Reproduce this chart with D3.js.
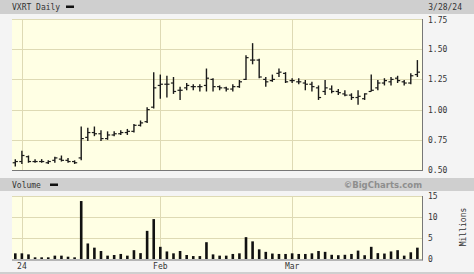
<!DOCTYPE html>
<html>
<head>
<meta charset="utf-8">
<script src="https://cdn.jsdelivr.net/npm/d3@7"></script>
<style>
  body { margin: 0; background: #f4f4f4; }
  svg { display: block; }
  text { font-family: "DejaVu Sans Mono", monospace; font-size: 8px; fill: #333; }
</style>
</head>
<body>
<svg id="chart"></svg>
<script>
var width = 474,
    height = 274;

// daily bars, 12/29/23 .. 3/28/24 (index = trading day)
var opens  = [0.56,0.57,0.61,0.57,0.57,0.56,0.58,0.59,0.58,0.57,
              0.60,0.77,0.81,0.80,0.76,0.79,0.80,0.81,0.82,0.87,
              0.90,1.02,1.20,1.21,1.22,1.16,1.18,1.19,1.19,1.20,
              1.25,1.19,1.18,1.17,1.19,1.25,1.41,1.41,1.25,1.24,
              1.30,1.30,1.24,1.23,1.22,1.21,1.18,1.15,1.17,1.15,
              1.13,1.12,1.10,1.09,1.15,1.18,1.22,1.23,1.26,1.23,
              1.22,1.29];
var highs  = [0.59,0.66,0.62,0.59,0.59,0.58,0.61,0.62,0.60,0.58,
              0.86,0.85,0.86,0.83,0.82,0.82,0.83,0.84,0.88,0.91,
              1.02,1.31,1.29,1.28,1.27,1.19,1.22,1.21,1.21,1.34,
              1.26,1.20,1.19,1.21,1.245,1.45,1.55,1.42,1.27,1.29,
              1.34,1.31,1.26,1.26,1.245,1.23,1.20,1.245,1.20,1.17,
              1.16,1.135,1.16,1.135,1.29,1.245,1.26,1.27,1.28,1.245,
              1.30,1.41];
var lows   = [0.53,0.55,0.56,0.56,0.56,0.55,0.56,0.57,0.56,0.55,
              0.58,0.74,0.78,0.74,0.75,0.78,0.79,0.79,0.81,0.86,
              0.89,1.01,1.09,1.10,1.13,1.08,1.16,1.16,1.15,1.15,
              1.15,1.16,1.15,1.15,1.18,1.245,1.375,1.26,1.19,1.23,
              1.27,1.22,1.22,1.21,1.16,1.15,1.08,1.12,1.135,1.12,
              1.11,1.08,1.04,1.08,1.15,1.16,1.20,1.20,1.22,1.20,
              1.21,1.27];
var closes = [0.57,0.62,0.57,0.57,0.57,0.57,0.60,0.58,0.57,0.56,
              0.76,0.81,0.80,0.76,0.79,0.80,0.81,0.82,0.87,0.89,
              1.00,1.18,1.21,1.21,1.15,1.16,1.20,1.19,1.19,1.26,
              1.19,1.18,1.17,1.19,1.23,1.43,1.41,1.27,1.23,1.25,
              1.31,1.23,1.24,1.23,1.21,1.19,1.10,1.18,1.15,1.14,
              1.12,1.10,1.11,1.13,1.16,1.22,1.24,1.25,1.24,1.22,
              1.28,1.31];
// volume, millions
var volumes = [1.35,1.35,1.1,0.4,0.4,0.4,0.8,0.8,0.55,0.4,
               13.8,3.7,2.7,1.9,0.8,0.95,1.2,0.8,2.1,1.4,
               6.7,9.5,2.9,1.8,1.35,1.9,0.95,0.7,0.7,4.0,
               1.1,0.8,0.8,1.2,1.35,5.2,4.2,2.3,1.7,1.3,
               1.2,1.2,1.35,1.2,1.2,1.35,1.9,1.7,1.0,0.9,
               1.0,1.2,2.0,0.9,2.9,1.4,1.3,1.8,2.1,0.8,
               1.6,2.7];

var dateTickIdx = [1, 22, 42],
    dateTickLabels = ["24", "Feb", "Mar"];
var priceTicks = [0.50, 0.75, 1.00, 1.25, 1.50, 1.75],
    volTicks = [0, 5, 10, 15];

var svg = d3.select("#chart")
    .attr("width", width)
    .attr("height", height);

var left = 12, right = 422;
var gridColor = "#dedab4", plotBg = "#ffffe4", bandColor = "#cfcfcf";

var x = d3.scaleLinear()
    .domain([-0.5, 61.7])
    .range([left, right]);

var y = d3.scaleLinear()
    .domain([0.5, 1.75])
    .range([170, 19]);

var yv = d3.scaleLinear()
    .domain([0, 15])
    .range([259, 196]);

// header bands
svg.append("rect").attr("x", 0).attr("y", 0).attr("width", width).attr("height", 14)
    .attr("fill", bandColor);
svg.append("rect").attr("x", 0).attr("y", 178).attr("width", width).attr("height", 13)
    .attr("fill", bandColor);

svg.append("text").attr("x", 12).attr("y", 10).text("VXRT Daily");
svg.append("rect").attr("x", 66).attr("y", 5.5).attr("width", 8).attr("height", 2.5).attr("fill", "#111");
svg.append("text").attr("x", 12).attr("y", 188).text("Volume");
svg.append("rect").attr("x", 50).attr("y", 183.5).attr("width", 8).attr("height", 2.5).attr("fill", "#111");
svg.append("text").attr("x", 462).attr("y", 10).attr("text-anchor", "end").text("3/28/24");
svg.append("text").attr("x", 422).attr("y", 188).attr("text-anchor", "end")
    .style("font-family", "'DejaVu Sans', sans-serif").style("font-size", "8.5px")
    .style("font-weight", "bold").style("fill", "#8e8e8e")
    .text("\u00a9BigCharts.com");

// plot backgrounds
svg.append("rect").attr("x", left).attr("y", 19).attr("width", right - left).attr("height", 151)
    .attr("fill", plotBg);
svg.append("rect").attr("x", left).attr("y", 196).attr("width", right - left).attr("height", 63)
    .attr("fill", plotBg);

// price grid
var gp = svg.append("g");
gp.selectAll("line.h").data(priceTicks.slice(1, 5)).enter().append("line")
    .attr("x1", left).attr("x2", right)
    .attr("y1", function (d) { return Math.round(y(d)) + 0.5; })
    .attr("y2", function (d) { return Math.round(y(d)) + 0.5; })
    .attr("stroke", gridColor);
gp.append("line").attr("x1", left).attr("x2", right).attr("y1", 19.5).attr("y2", 19.5).attr("stroke", gridColor);
gp.selectAll("line.v").data(dateTickIdx).enter().append("line")
    .attr("x1", function (d) { return Math.round(x(d)) + 0.5; })
    .attr("x2", function (d) { return Math.round(x(d)) + 0.5; })
    .attr("y1", 19).attr("y2", 170)
    .attr("stroke", gridColor);

// volume grid
var gv = svg.append("g");
gv.selectAll("line.h").data(volTicks.slice(1)).enter().append("line")
    .attr("x1", left).attr("x2", right)
    .attr("y1", function (d) { return Math.round(yv(d)) + 0.5; })
    .attr("y2", function (d) { return Math.round(yv(d)) + 0.5; })
    .attr("stroke", gridColor);
gv.selectAll("line.v").data(dateTickIdx).enter().append("line")
    .attr("x1", function (d) { return Math.round(x(d)) + 0.5; })
    .attr("x2", function (d) { return Math.round(x(d)) + 0.5; })
    .attr("y1", 196).attr("y2", 259)
    .attr("stroke", gridColor);

// frame lines (bottom + right)
[[170, 19], [259.5, 196]].forEach(function (f) {
    svg.append("line").attr("x1", left).attr("x2", right + 0.5).attr("y1", f[0] + 0.5).attr("y2", f[0] + 0.5)
        .attr("stroke", "#777");
    svg.append("line").attr("x1", right + 0.5).attr("x2", right + 0.5).attr("y1", f[1]).attr("y2", f[0] + 1)
        .attr("stroke", "#777");
});

// OHLC bars
var bars = svg.append("g").attr("stroke", "#1a1a1a").attr("stroke-width", 1.4);
var idx = d3.range(opens.length);
bars.selectAll("line.hl").data(idx).enter().append("line")
    .attr("x1", function (i) { return x(i); })
    .attr("x2", function (i) { return x(i); })
    .attr("y1", function (i) { return y(highs[i]); })
    .attr("y2", function (i) { return y(lows[i]); });
bars.selectAll("line.o").data(idx).enter().append("line")
    .attr("x1", function (i) { return x(i) - 2.6; })
    .attr("x2", function (i) { return x(i); })
    .attr("y1", function (i) { return y(opens[i]); })
    .attr("y2", function (i) { return y(opens[i]); })
    .attr("stroke-width", 1.2);
bars.selectAll("line.c").data(idx).enter().append("line")
    .attr("x1", function (i) { return x(i); })
    .attr("x2", function (i) { return x(i) + 2.6; })
    .attr("y1", function (i) { return y(closes[i]); })
    .attr("y2", function (i) { return y(closes[i]); })
    .attr("stroke-width", 1.2);

// volume bars
svg.append("g").selectAll("rect").data(idx).enter().append("rect")
    .attr("x", function (i) { return x(i) - 1.3; })
    .attr("width", 2.6)
    .attr("y", function (i) { return yv(volumes[i]); })
    .attr("height", function (i) { return yv(0) - yv(volumes[i]); })
    .attr("fill", "#111");

// axes labels (right side)
svg.append("g").selectAll("text").data(priceTicks).enter().append("text")
    .attr("x", 428)
    .attr("y", function (d) { return Math.max(y(d) + 3, 22.5); })
    .text(function (d) { return d.toFixed(2); });
svg.append("g").selectAll("text").data(volTicks).enter().append("text")
    .attr("x", 428)
    .attr("y", function (d) { return yv(d) + 3; })
    .text(function (d) { return d; });
svg.append("text")
    .attr("transform", "translate(466,227) rotate(-90)")
    .attr("text-anchor", "middle")
    .text("Millions");

// date labels
svg.append("g").selectAll("text").data(dateTickIdx).enter().append("text")
    .attr("x", function (d) { return x(d); })
    .attr("y", 269)
    .attr("text-anchor", "middle")
    .text(function (d, i) { return dateTickLabels[i]; });

svg.append("rect").attr("x", 0).attr("y", 272).attr("width", width).attr("height", 2).attr("fill", "#cfcfcf");
</script>
</body>
</html>
